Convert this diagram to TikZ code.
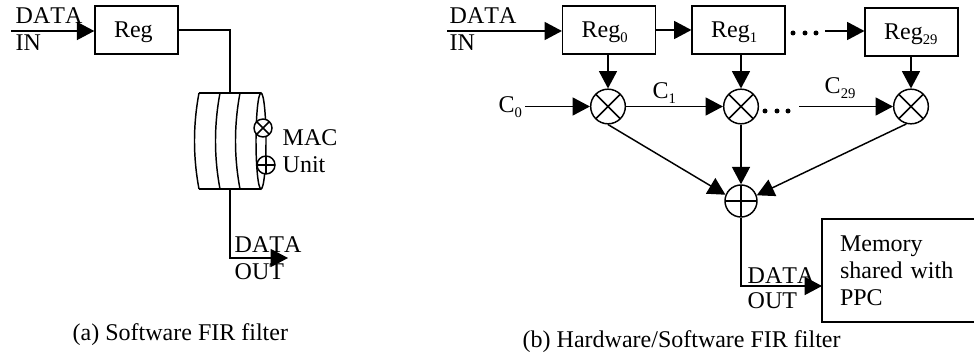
\documentclass[tikz,border=0pt]{standalone}
\usepackage{fontspec}
\setmainfont[Kerning=Off]{Liberation Serif}
\usetikzlibrary{arrows.meta}
\newcommand{\lowtxt}[1]{\raisebox{-0.18em}{\fontsize{11}{11}\selectfont #1}}
\tikzset{
    lab/.style={anchor=base west,inner sep=0pt},
    regbox/.style={draw,inner ysep=0pt,inner xsep=14.25pt,text width=#1-28.5pt,align=left,
        minimum height=36pt,text height=12pt,text depth=0pt},
    wire/.style={-{Triangle[length=13pt,width=13.5pt]}},
    mulnode/.style={circle,draw,fill=white,inner sep=0pt,minimum size=#1,
        path picture={\draw (path picture bounding box.north west) -- (path picture bounding box.south east)
            (path picture bounding box.north east) -- (path picture bounding box.south west);}},
    addnode/.style={circle,draw,fill=white,inner sep=0pt,minimum size=#1,
        path picture={\draw (path picture bounding box.north) -- (path picture bounding box.south)
            (path picture bounding box.east) -- (path picture bounding box.west);}}
}
\begin{document}
\begin{tikzpicture}[x=0.75pt,y=-0.75pt,line width=1.1pt,font=\fontsize{18}{20}\selectfont]
    \useasboundingbox (0,0) rectangle (974,356);
    % left filter
    \node[regbox=62.25pt] (reg) at (136.5,30) {Reg};
    \coordinate (inleft) at (11,31);
    \coordinate (macin) at (230,93);
    \coordinate (macout) at (230,189);
    \coordinate (outleft) at (288,258);
    \draw (199,93) -- (261,93) (199,189) -- (261,189);
    \draw (199,93) .. controls (193,125) and (193,157) .. (199,189);
    \draw (220,93) .. controls (214,125) and (214,157) .. (220,189);
    \draw (240,93) .. controls (234,125) and (234,157) .. (240,189);
    \draw (261,141) ellipse (5 and 48);
    \node[mulnode=13.5pt] (macmul) at (263,128) {};
    \node[addnode=13.5pt] (macadd) at (266,165) {};
    \draw[wire] (inleft) -- (inleft -| reg.west);
    \draw (reg.east) -| (macin);
    \draw[wire] (macout) |- (outleft);
    \node[lab] (datainl) at (15,24) {DATA};
    \node[lab] (inl) at (15,51) {IN};
    \node[lab] (mac) at (282,146) {MAC};
    \node[lab] (unit) at (282,173) {Unit};
    \node[lab] (dataoutl) at (234,252) {DATA};
    \node[lab] (outl) at (234,279) {OUT};
    \node[lab] (capa) at (72,340) {(a) Software FIR filter};
    % right filter
    \node[regbox=69.5pt] (reg0) at (609,30) {Reg\lowtxt{0}};
    \node[regbox=69.5pt] (reg1) at (738.5,30) {Reg\lowtxt{1}};
    \node[regbox=69.5pt] (reg29) at (911.5,32) {Reg\lowtxt{29}};
    \node[mulnode=26pt] (mul0) at (608,106.5) {};
    \node[mulnode=26pt] (mul1) at (741,106.5) {};
    \node[mulnode=26pt] (mul29) at (911,106.5) {};
    \node[addnode=24pt] (add) at (741,201) {};
    \node[draw,inner ysep=0pt,inner xsep=13.5pt,text width=88.5pt,align=left,minimum height=77pt,
        font=\fontsize{18}{20.25}\selectfont] (mem) at (899,270.5) {Memory\\shared with\\PPC};
    \coordinate (inright) at (447,31);
    \coordinate (dots0) at (825,31);
    \coordinate (dots1) at (799,106.5);
    \coordinate (c0end) at (525,106.5);
    \coordinate (memin) at (822,286);
    \draw[wire] (inright) -- (inright -| reg0.west);
    \draw[wire] (reg0) -- (reg1);
    \draw[wire] (dots0) -- (dots0 -| reg29.west);
    \draw[wire] (reg0.south -| mul0) -- (mul0);
    \draw[wire] (reg1.south -| mul1) -- (mul1);
    \draw[wire] (reg29.south -| mul29) -- (mul29);
    \draw[wire] (c0end) -- (mul0);
    \draw[wire] (mul0) -- (mul1);
    \draw[wire] (dots1) -- (mul29);
    \draw[wire] (mul0.south) -- (add.158);
    \draw[wire] (mul1) -- (add);
    \draw[wire] (mul29.255) -- (add.20);
    \draw[wire] (add) |- (memin);
    \foreach \x in {793,805,816} \fill (\x,33) circle (2.5);
    \foreach \x in {765,777,788} \fill (\x,111) circle (2.5);
    \node[lab] (datainr) at (449,24) {DATA};
    \node[lab] (inr) at (449,51) {IN};
    \node[lab] (c0) at (498,113) {C\lowtxt{0}};
    \node[lab] (c1) at (652,99) {C\lowtxt{1}};
    \node[lab] (c29) at (824,94) {C\lowtxt{29}};
    \node[lab] (dataoutr) at (747,283) {DATA};
    \node[lab] (outr) at (747,308) {OUT};
    \node[lab] (capb) at (522,347) {(b) Hardware/Software FIR filter};
\end{tikzpicture}
\end{document}
